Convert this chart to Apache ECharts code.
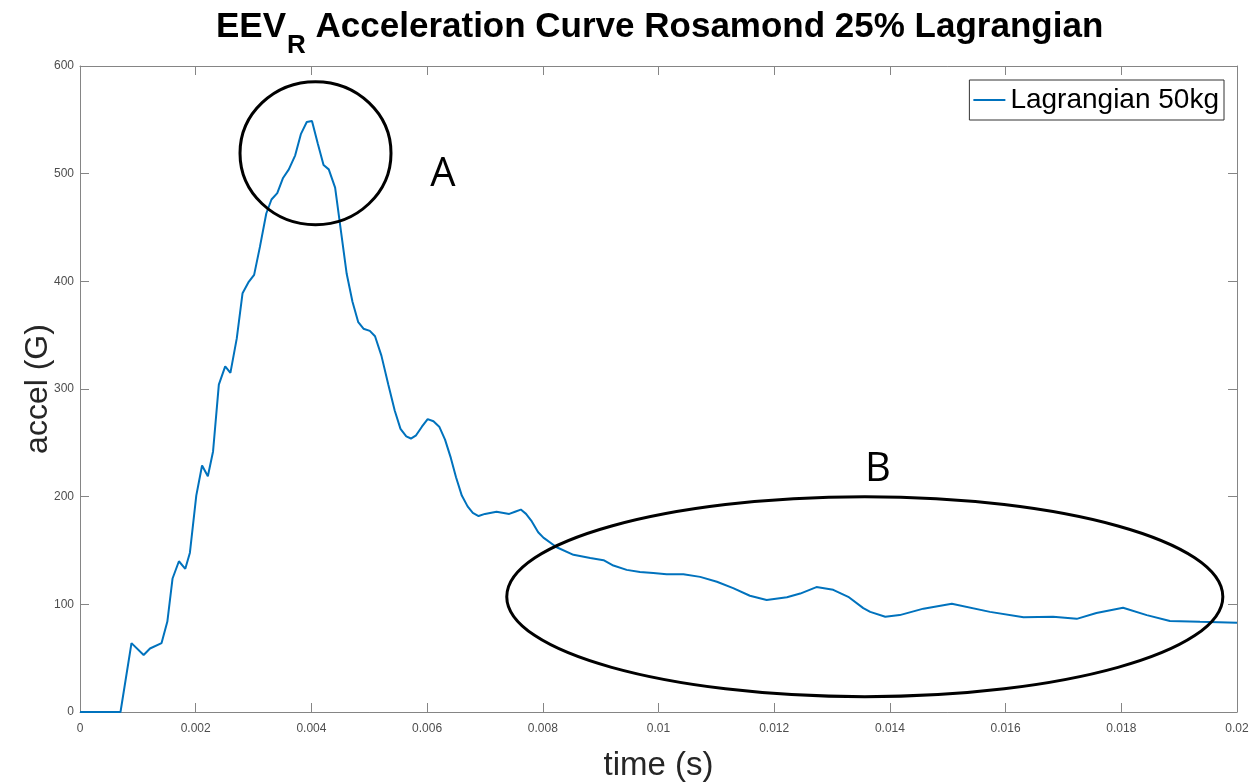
<!DOCTYPE html>
<html>
<head>
<meta charset="utf-8">
<script src="https://cdn.jsdelivr.net/npm/echarts@6/dist/echarts.min.js"></script>
<style>html,body{margin:0;padding:0;background:#fff;overflow:hidden}#c{width:1260px;height:783px}</style>
</head>
<body>
<div id="c"></div>
<script>
// time (s)
const times = [0, 0.0007, 0.00089, 0.0011, 0.00121, 0.00141, 0.00151, 0.0016, 0.00171, 0.00182, 0.0019,
  0.00201, 0.00211, 0.00221, 0.0023, 0.0024, 0.00251, 0.0026, 0.00271, 0.00281, 0.00291,
  0.00301, 0.00311, 0.00322, 0.00331, 0.00341, 0.00351, 0.00361, 0.00372, 0.00382, 0.00392,
  0.00401, 0.00411, 0.00421, 0.0043, 0.00441, 0.00449, 0.00461, 0.00471, 0.00481, 0.0049,
  0.00501, 0.0051, 0.00521, 0.00533, 0.00544, 0.00554, 0.00564, 0.00572, 0.00581, 0.00591,
  0.00601, 0.00611, 0.00621, 0.00631, 0.00641, 0.0065, 0.0066, 0.0067, 0.00679, 0.00689,
  0.007, 0.0072, 0.00742, 0.00752, 0.00762, 0.00771, 0.00781, 0.00792, 0.00801, 0.00824,
  0.00853, 0.00882, 0.00905, 0.00922, 0.00945, 0.00968, 0.00991, 0.01014, 0.01043, 0.01072,
  0.01101, 0.01129, 0.01158, 0.01187, 0.01222, 0.01245, 0.01273, 0.01302, 0.01328, 0.01354,
  0.01366, 0.01392, 0.01417, 0.01458, 0.01507, 0.01573, 0.01631, 0.01682, 0.01723, 0.01757,
  0.01803, 0.01844, 0.01884, 0.01936, 0.02];
// acceleration (G)
const accel = [0, 0, 64, 53, 59, 64, 84, 124, 140, 133, 148,
  201, 229, 219, 242, 304, 321, 315, 347, 389, 399,
  406, 432, 463, 476, 482, 496, 504, 517, 537, 548,
  549, 528, 508, 504, 487, 455, 407, 381, 362, 356,
  354, 349, 331, 304, 280, 263, 256, 254, 257, 265,
  272, 270, 265, 253, 236, 218, 201, 191, 185, 182,
  184, 186, 184, 186, 188, 184, 177, 167, 162, 153,
  146, 143, 141, 136, 132, 130, 129, 128, 128, 125.5,
  121, 115, 108, 104, 106.5, 110, 116, 113.5, 107, 96.5,
  93, 88.5, 90, 96, 100.5, 93, 88, 88.5, 86.5, 92,
  96.8, 90, 84.5, 83.8, 83];
const seriesName = 'Lagrangian 50kg';
const yTicks = [0, 100, 200, 300, 400, 500, 600];
const xTicks = [0, 0.002, 0.004, 0.006, 0.008, 0.01, 0.012, 0.014, 0.016, 0.018, 0.02];
// annotations in data units: [t centre, accel centre, t radius, accel radius]
const ellipseA = [0.004071, 519, 0.001305, 66.4];
const ellipseB = [0.013566, 107.1, 0.006189, 92.9];
const labelA = ['A', 0.006275, 499];
const labelB = ['B', 0.013794, 224.7];

const points = times.map((t, i) => [t, accel[i]]);
const axisGray = '#858585';
const fmtX = v => String(+(+v).toFixed(4));

const chart = echarts.init(document.getElementById('c'), null, {renderer: 'canvas'});
function mkX(extra) {
  return Object.assign({
    type: 'value', min: xTicks[0], max: xTicks[xTicks.length - 1], interval: 0.002,
    axisLine: {show: true, onZero: false, lineStyle: {color: axisGray, width: 1}},
    axisTick: {show: true, inside: true, length: 9, lineStyle: {color: axisGray}},
    splitLine: {show: false}
  }, extra);
}
function mkY(extra) {
  return Object.assign({
    type: 'value', min: yTicks[0], max: yTicks[yTicks.length - 1], interval: 100,
    axisLine: {show: true, onZero: false, lineStyle: {color: axisGray, width: 1}},
    axisTick: {show: true, inside: true, length: 9, lineStyle: {color: axisGray}},
    splitLine: {show: false}
  }, extra);
}
chart.setOption({
  animation: false,
  backgroundColor: '#fff',
  title: {
    left: 211, top: 5,
    text: '{m|EEV}{s|R}{m| Acceleration Curve Rosamond 25% Lagrangian}',
    textStyle: {
      rich: {
        m: {fontFamily: 'Liberation Sans', fontWeight: 'bold', fontSize: 35, lineHeight: 40, color: '#000', verticalAlign: 'top'},
        s: {fontFamily: 'Liberation Sans', fontWeight: 'bold', fontSize: 26, lineHeight: 26, color: '#000', verticalAlign: 'top', padding: [23, 0, 0, 1]}
      }
    }
  },
  legend: {
    right: 36, top: 80,
    data: [seriesName],
    icon: 'rect', itemWidth: 32, itemHeight: 2,
    borderColor: '#333', borderWidth: 1, borderRadius: 0,
    padding: [6, 5, 6, 4],
    backgroundColor: '#fff',
    textStyle: {fontFamily: 'Liberation Sans', fontSize: 28, color: '#000'}
  },
  grid: {left: 80, right: 23, top: 66, bottom: 71, containLabel: false, outerBoundsMode: 'none'},
  xAxis: [
    mkX({
      position: 'bottom',
      name: 'time (s)', nameLocation: 'middle', nameGap: 37, nameMoveOverlap: false,
      nameTextStyle: {fontFamily: 'Liberation Sans', fontSize: 33, color: '#262626', verticalAlign: 'top'},
      axisLabel: {show: true, margin: 11, fontFamily: 'Liberation Sans', fontSize: 12, color: '#4d4d4d', formatter: fmtX}
    }),
    mkX({position: 'top', axisLabel: {show: false}})
  ],
  yAxis: [
    mkY({
      position: 'left',
      name: 'accel (G)', nameLocation: 'middle', nameGap: 26, nameMoveOverlap: false,
      nameTextStyle: {fontFamily: 'Liberation Sans', fontSize: 32, color: '#262626', verticalAlign: 'bottom'},
      axisLabel: {show: true, margin: 6, fontFamily: 'Liberation Sans', fontSize: 12, color: '#4d4d4d'}
    }),
    mkY({position: 'right', axisLabel: {show: false}})
  ],
  series: [{
    name: seriesName, type: 'line', data: points,
    xAxisIndex: 0, yAxisIndex: 0,
    showSymbol: false, symbol: 'none', smooth: false,
    lineStyle: {color: '#0072BD', width: 2},
    itemStyle: {color: '#0072BD'},
    z: 3
  }, {
    name: 'frame', type: 'line', data: [],
    xAxisIndex: 1, yAxisIndex: 1, silent: true, symbol: 'none'
  }]
});

function px(t, v) { return chart.convertToPixel({xAxisIndex: 0, yAxisIndex: 0}, [t, v]); }
function ell(e) {
  const c = px(e[0], e[1]);
  const r = px(e[0] + e[2], e[1] + e[3]);
  return {type: 'ellipse', silent: true, z: 100,
    shape: {cx: c[0], cy: c[1], rx: Math.abs(r[0] - c[0]), ry: Math.abs(r[1] - c[1])},
    style: {fill: 'none', stroke: '#000', lineWidth: 3}};
}
function lbl(l) {
  const p = px(l[1], l[2]);
  return {type: 'text', silent: true, z: 100, x: p[0], y: p[1],
    style: {text: l[0], fontFamily: 'Open Sans', fontSize: 40, fill: '#000', align: 'center', verticalAlign: 'middle'}};
}
chart.setOption({graphic: [ell(ellipseA), ell(ellipseB), lbl(labelA), lbl(labelB)]});
</script>
</body>
</html>
